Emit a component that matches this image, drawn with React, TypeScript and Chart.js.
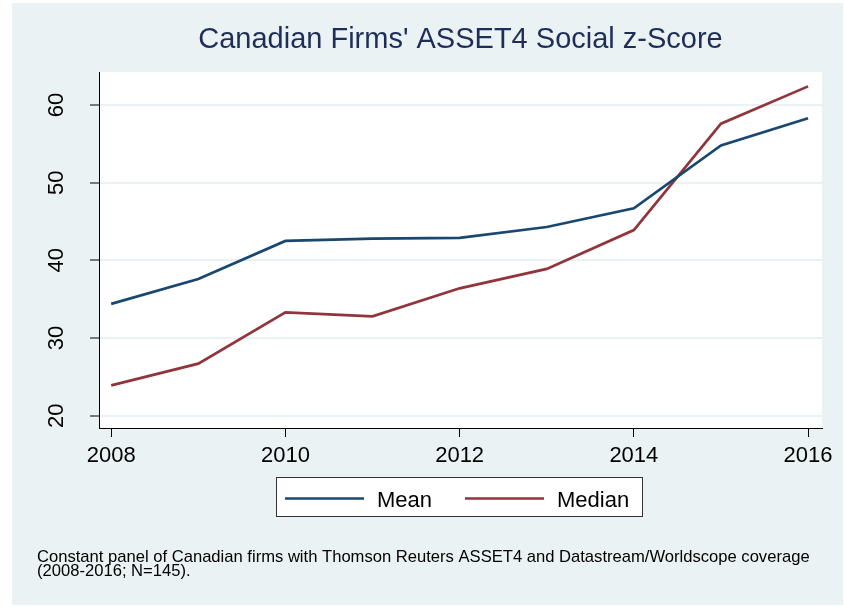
import React, { useEffect, useRef } from "react";
import { Chart, registerables } from "chart.js";

Chart.register(...registerables);

const years = [2008, 2009, 2010, 2011, 2012, 2013, 2014, 2015, 2016];
const meanValues = [34.4, 37.6, 42.5, 42.8, 42.9, 44.3, 46.7, 54.8, 58.3];
const medianValues = [23.9, 26.7, 33.3, 32.8, 36.4, 38.9, 43.9, 57.6, 62.4];
const xTicks = [2008, 2010, 2012, 2014, 2016];
const yTicks = [20, 30, 40, 50, 60];
const titleText = "Canadian Firms' ASSET4 Social z-Score";
const noteLines = [
  "Constant panel of Canadian firms with Thomson Reuters ASSET4 and Datastream/Worldscope coverage",
  "(2008-2016; N=145).",
];
const seriesLabels = ["Mean", "Median"];

const BG = "#EAF2F3";
const FONT = '"Liberation Sans", Arial, sans-serif';

const decorPlugin = {
  id: "decor",
  beforeDraw(chart: any) {
    const { ctx, chartArea } = chart;
    ctx.save();
    ctx.fillStyle = "#ffffff";
    ctx.fillRect(0, 0, chart.width, chart.height);
    ctx.fillStyle = BG;
    ctx.fillRect(12, 3, 831, 602);
    ctx.fillStyle = "#ffffff";
    ctx.fillRect(chartArea.left, chartArea.top, chartArea.right - chartArea.left, chartArea.bottom - chartArea.top);
    ctx.restore();
  },
  afterDraw(chart: any) {
    const { ctx, chartArea } = chart;
    const xs = chart.scales.x;
    const ys = chart.scales.y;
    ctx.save();
    // title
    ctx.fillStyle = "#1F2E58";
    ctx.font = `29px ${FONT}`;
    ctx.textAlign = "center";
    ctx.textBaseline = "alphabetic";
    ctx.fillText(titleText, (chartArea.left + chartArea.right) / 2, 48);
    // x tick labels
    ctx.fillStyle = "#000000";
    ctx.font = `22px ${FONT}`;
    xTicks.forEach((v) => {
      ctx.fillText(String(v), xs.getPixelForValue(v), 462);
    });
    // y tick labels (rotated)
    yTicks.forEach((v) => {
      ctx.save();
      ctx.translate(63, ys.getPixelForValue(v));
      ctx.rotate(-Math.PI / 2);
      ctx.textAlign = "center";
      ctx.fillText(String(v), 0, 0);
      ctx.restore();
    });
    // legend
    const bx = 276.5, by = 477.5, bw = 366, bh = 39;
    ctx.fillStyle = "#ffffff";
    ctx.fillRect(bx, by, bw, bh);
    ctx.strokeStyle = "#333333";
    ctx.lineWidth = 1;
    ctx.strokeRect(bx, by, bw, bh);
    const items = [
      { x0: 285, x1: 364, tx: 377 },
      { x0: 465, x1: 544, tx: 557 },
    ];
    chart.data.datasets.forEach((ds: any, i: number) => {
      const it = items[i];
      ctx.strokeStyle = ds.borderColor;
      ctx.lineWidth = 2.7;
      ctx.beginPath();
      ctx.moveTo(it.x0, 498.5);
      ctx.lineTo(it.x1, 498.5);
      ctx.stroke();
      ctx.fillStyle = "#000000";
      ctx.font = `22px ${FONT}`;
      ctx.textAlign = "left";
      ctx.fillText(ds.label, it.tx, 506.5);
    });
    // note
    ctx.font = `16.6px ${FONT}`;
    ctx.textAlign = "left";
    ctx.fillStyle = "#000000";
    ctx.fillText(noteLines[0], 37, 562);
    ctx.fillText(noteLines[1], 37, 576);
    ctx.restore();
  },
};

export default function App() {
  const ref = useRef<HTMLCanvasElement | null>(null);
  useEffect(() => {
    document.body.style.margin = "0";
    const canvas = ref.current!;
    const chart = new Chart(canvas, {
      type: "line",
      data: {
        datasets: [
          {
            label: seriesLabels[0],
            data: years.map((y, i) => ({ x: y, y: meanValues[i] })),
            borderColor: "#1A476F",
            borderWidth: 2.7,
            pointRadius: 0,
            tension: 0,
            fill: false,
          },
          {
            label: seriesLabels[1],
            data: years.map((y, i) => ({ x: y, y: medianValues[i] })),
            borderColor: "#90353B",
            borderWidth: 2.7,
            pointRadius: 0,
            tension: 0,
            fill: false,
          },
        ],
      },
      options: {
        animation: false,
        responsive: false,
        devicePixelRatio: 1,
        layout: { padding: { left: 59, right: 23, top: 72, bottom: 139 } },
        plugins: {
          legend: { display: false },
          title: { display: false },
          tooltip: { enabled: false },
        },
        scales: {
          x: {
            type: "linear",
            min: 2007.86,
            max: 2016.16,
            afterFit: (s: any) => {
              s.height = 40;
            },
            afterBuildTicks: (s: any) => {
              s.ticks = xTicks.map((v) => ({ value: v }));
            },
            ticks: { display: false },
            grid: {
              drawOnChartArea: false,
              color: "rgba(0,0,0,0)",
              tickColor: "#000000",
              tickLength: 9,
              tickWidth: 1,
            },
            border: { display: true, color: "#000000", width: 1 },
          },
          y: {
            type: "linear",
            min: 18.42,
            max: 64.25,
            afterFit: (s: any) => {
              s.width = 40;
            },
            afterBuildTicks: (s: any) => {
              s.ticks = yTicks.map((v) => ({ value: v }));
            },
            ticks: { display: false },
            grid: {
              drawOnChartArea: true,
              color: BG,
              lineWidth: 2,
              tickColor: "#000000",
              tickLength: 9,
              tickWidth: 1,
            },
            border: { display: true, color: "#000000", width: 1 },
          },
        },
      },
      plugins: [decorPlugin],
    });
    return () => chart.destroy();
  }, []);
  return <canvas ref={ref} width={845} height={607} style={{ display: "block" }} />;
}
